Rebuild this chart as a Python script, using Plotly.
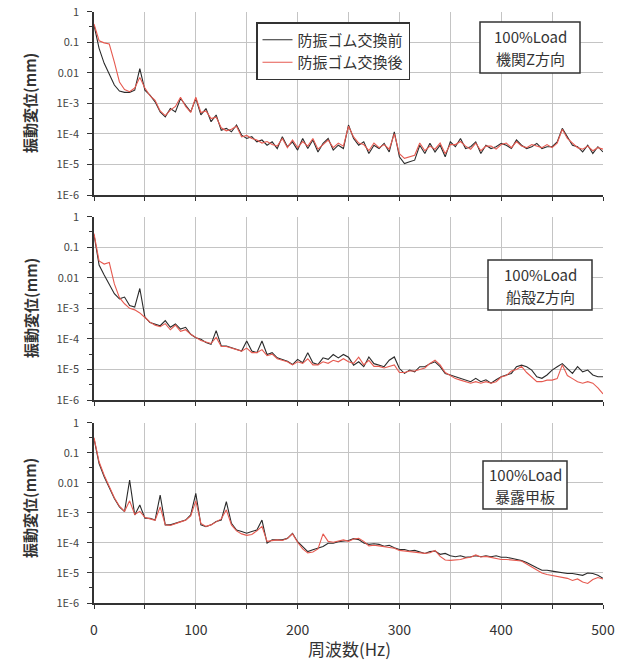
import numpy as np
import plotly.graph_objects as go

# Frequency axis (Hz), 5 Hz resolution
freq = list(range(0, 505, 5))

# log10 of displacement amplitude (mm)
# Engine, Z direction
engine_before = [
    -0.44, -1.20, -1.69, -2.07, -2.40, -2.60, -2.64, -2.64, -2.57, -1.86,
    -2.57, -2.73, -2.95, -3.28, -3.44, -3.17, -3.28, -2.84, -3.06, -3.28,
    -2.84, -3.38, -3.17, -3.60, -3.38, -3.88, -3.82, -3.93, -3.71, -4.04,
    -4.15, -4.09, -4.26, -4.20, -4.37, -4.26, -4.48, -4.09, -4.42, -4.26,
    -4.53, -4.15, -4.48, -4.20, -4.59, -4.31, -4.15, -4.53, -4.37, -4.48,
    -3.71, -4.15, -4.37, -4.26, -4.64, -4.37, -4.48, -4.31, -4.59, -3.93,
    -4.75, -4.97, -4.91, -4.86, -4.37, -4.64, -4.31, -4.59, -4.37, -4.75,
    -4.26, -4.42, -4.15, -4.48, -4.42, -4.26, -4.64, -4.37, -4.48, -4.42,
    -4.31, -4.37, -4.48, -4.20, -4.37, -4.48, -4.42, -4.31, -4.48, -4.42,
    -4.42, -4.26, -3.82, -4.09, -4.37, -4.42, -4.59, -4.37, -4.64, -4.42,
    -4.59,
]
engine_after = [
    -0.40, -0.95, -1.02, -1.06, -1.65, -2.30, -2.55, -2.62, -2.50, -2.15,
    -2.50, -2.75, -2.90, -3.25, -3.40, -3.22, -3.10, -2.80, -3.10, -3.30,
    -2.80, -3.30, -3.25, -3.50, -3.45, -3.80, -3.90, -3.85, -3.75, -4.10,
    -4.05, -4.15, -4.20, -4.30, -4.25, -4.35, -4.40, -4.15, -4.45, -4.20,
    -4.45, -4.25, -4.40, -4.15, -4.50, -4.35, -4.20, -4.45, -4.30, -4.40,
    -3.75, -4.10, -4.30, -4.35, -4.55, -4.30, -4.45, -4.35, -4.50, -4.00,
    -4.65, -4.80, -4.75, -4.70, -4.30, -4.55, -4.40, -4.50, -4.30, -4.65,
    -4.35, -4.35, -4.25, -4.40, -4.50, -4.30, -4.55, -4.40, -4.40, -4.50,
    -4.35, -4.30, -4.45, -4.25, -4.40, -4.45, -4.35, -4.40, -4.45, -4.35,
    -4.45, -4.30, -3.85, -4.15, -4.30, -4.45, -4.50, -4.40, -4.55, -4.45,
    -4.50,
]

# Hull, Z direction
hull_before = [
    -0.59, -1.58, -1.91, -2.24, -2.52, -2.69, -2.63, -2.91, -2.96, -2.35,
    -3.29, -3.46, -3.51, -3.57, -3.40, -3.62, -3.51, -3.68, -3.62, -3.85,
    -3.96, -4.01, -4.12, -4.18, -3.73, -4.23, -4.23, -4.29, -4.34, -4.40,
    -4.07, -4.40, -4.45, -4.07, -4.51, -4.45, -4.62, -4.67, -4.73, -4.84,
    -4.67, -4.78, -4.45, -4.78, -4.84, -4.62, -4.67, -4.51, -4.62, -4.51,
    -4.60, -4.86, -4.75, -4.91, -4.59, -4.81, -4.86, -4.91, -4.70, -4.59,
    -4.97, -5.13, -5.02, -5.08, -4.91, -4.91, -4.81, -4.75, -4.91, -5.13,
    -5.18, -5.24, -5.29, -5.34, -5.40, -5.29, -5.40, -5.34, -5.45, -5.34,
    -5.24, -5.18, -5.13, -4.91, -4.86, -4.91, -5.02, -5.24, -5.29, -5.18,
    -5.02, -4.91, -4.81, -4.97, -5.13, -4.91, -5.08, -5.02, -5.18, -5.24,
    -5.24,
]
hull_after = [
    -0.55, -1.45, -1.55, -1.50, -2.20, -2.65, -2.85, -3.00, -3.05, -3.15,
    -3.30, -3.45, -3.55, -3.60, -3.50, -3.70, -3.55, -3.75, -3.70, -3.85,
    -3.95, -4.05, -4.10, -4.15, -3.95, -4.25, -4.25, -4.30, -4.35, -4.40,
    -4.30, -4.45, -4.45, -4.35, -4.55, -4.50, -4.65, -4.70, -4.75, -4.85,
    -4.75, -4.80, -4.65, -4.85, -4.85, -4.75, -4.80, -4.70, -4.75, -4.65,
    -4.75, -4.80, -4.60, -4.85, -4.70, -4.90, -4.90, -4.95, -4.90, -4.85,
    -5.10, -5.10, -5.05, -5.05, -5.00, -4.95, -4.80, -4.70, -4.85, -5.10,
    -5.20, -5.30, -5.35, -5.40, -5.45, -5.40, -5.45, -5.40, -5.45, -5.40,
    -5.25, -5.20, -5.05, -5.00, -4.90, -5.10, -5.25, -5.40, -5.40, -5.35,
    -5.35, -5.30, -4.85, -5.20, -5.30, -5.40, -5.45, -5.40, -5.45, -5.60,
    -5.80,
]

# Exposed deck
deck_before = [
    -0.53, -1.36, -1.80, -2.19, -2.52, -2.80, -2.96, -1.91, -3.07, -2.74,
    -3.18, -3.18, -3.24, -2.41, -3.40, -3.40, -3.35, -3.29, -3.24, -3.07,
    -2.35, -3.40, -3.46, -3.40, -3.29, -3.24, -2.63, -3.35, -3.57, -3.62,
    -3.68, -3.62, -3.57, -3.24, -4.01, -3.90, -3.90, -3.90, -3.85, -3.68,
    -3.96, -4.12, -4.29, -4.23, -4.18, -4.12, -4.01, -4.01, -3.96, -3.93,
    -3.92, -3.86, -3.89, -4.00, -4.05, -4.03, -4.05, -4.11, -4.08, -4.16,
    -4.22, -4.22, -4.27, -4.25, -4.29, -4.35, -4.29, -4.27, -4.38, -4.35,
    -4.43, -4.46, -4.43, -4.48, -4.46, -4.43, -4.46, -4.43, -4.46, -4.43,
    -4.48, -4.48, -4.51, -4.54, -4.59, -4.65, -4.75, -4.83, -4.91, -4.91,
    -4.94, -4.97, -5.00, -5.02, -5.02, -5.04, -5.08, -5.00, -5.02, -5.08,
    -5.18,
]
deck_after = [
    -0.50, -1.30, -1.75, -2.15, -2.50, -2.78, -2.95, -2.60, -3.05, -2.95,
    -3.15, -3.20, -3.25, -2.80, -3.40, -3.42, -3.35, -3.30, -3.25, -3.10,
    -2.60, -3.35, -3.45, -3.40, -3.30, -3.20, -2.90, -3.40, -3.60, -3.70,
    -3.75, -3.72, -3.60, -3.45, -3.95, -3.92, -3.90, -3.92, -3.85, -3.70,
    -3.98, -4.20, -4.33, -4.30, -4.20, -3.70, -3.95, -3.98, -3.93, -3.90,
    -3.95, -3.87, -3.85, -3.95, -4.10, -4.08, -4.10, -4.12, -4.15, -4.18,
    -4.25, -4.27, -4.30, -4.30, -4.33, -4.35, -4.33, -4.25, -4.45, -4.57,
    -4.58, -4.57, -4.55, -4.50, -4.48, -4.40, -4.47, -4.45, -4.48, -4.50,
    -4.55, -4.55, -4.57, -4.58, -4.60, -4.70, -4.80, -4.92, -5.00, -5.05,
    -5.08, -5.12, -5.15, -5.18, -5.25, -5.20, -5.30, -5.35, -5.22, -5.15,
    -5.20,
]

series_names = ["防振ゴム交換前", "防振ゴム交換後"]
load_label = "100%Load"
location_labels = ["機関Z方向", "船殻Z方向", "暴露甲板"]
y_title = "振動変位(mm)"
x_title = "周波数(Hz)"
y_tick_vals = [1e-6, 1e-5, 1e-4, 1e-3, 0.01, 0.1, 1]
y_tick_text = ["1E-6", "1E-5", "1E-4", "1E-3", "0.01", "0.1", "1"]
x_tick_vals = list(range(0, 550, 50))
x_tick_text = ["0", "", "100", "", "200", "", "300", "", "400", "", "500"]

panels = [
    (engine_before, engine_after),
    (hull_before, hull_after),
    (deck_before, deck_after),
]

W, H = 623, 663
M_L, M_R, M_T, M_B = 94, 20, 11, 60
PW = W - M_L - M_R
PH = H - M_T - M_B


def px_y(y):
    """page pixel row -> paper y fraction"""
    return (H - M_B - y) / PH


def px_x(x):
    return (x - M_L) / PW


domains = [
    [px_y(195), px_y(11.7)],
    [px_y(400), px_y(216.7)],
    [0.0, px_y(422.7)],
]

BLACK = "#2b2b2b"
RED = "#e65a50"
GRID = "#c4c4c4"
AXIS = "#333333"
FONT = "Noto Sans CJK JP"

fig = go.Figure()

for i, (before, after) in enumerate(panels):
    ax = "" if i == 0 else str(i + 1)
    for vals, name, color in ((before, series_names[0], BLACK), (after, series_names[1], RED)):
        fig.add_trace(go.Scatter(
            x=freq,
            y=np.power(10.0, vals),
            mode="lines",
            name=name,
            line=dict(color=color, width=1.1),
            showlegend=(i == 0),
            xaxis="x" + ax,
            yaxis="y" + ax,
        ))

    xaxis = dict(
        domain=[0, 1],
        anchor="y" + ax,
        range=[0, 500],
        automargin=False,
        tickvals=x_tick_vals,
        ticktext=x_tick_text if i == 2 else [""] * len(x_tick_vals),
        ticks="outside",
        ticklen=4,
        tickcolor=AXIS,
        showgrid=True,
        gridcolor=GRID,
        gridwidth=1,
        showline=True,
        linecolor=AXIS,
        linewidth=1.6,
        zeroline=False,
        tickfont=dict(family=FONT, size=14, color="#333333"),
        ticklabelstandoff=9,
    )
    yaxis = dict(
        domain=domains[i],
        anchor="x" + ax,
        type="log",
        range=[-6, 0],
        automargin=False,
        tickvals=y_tick_vals,
        ticktext=y_tick_text,
        ticks="outside",
        ticklen=5,
        tickcolor=AXIS,
        minor=dict(tickvals=[3.16e-6, 3.16e-5, 3.16e-4, 3.16e-3, 3.16e-2, 0.316],
                   ticks="outside", ticklen=3, tickcolor=AXIS, showgrid=False),
        showgrid=True,
        gridcolor=GRID,
        gridwidth=1,
        showline=True,
        linecolor=AXIS,
        linewidth=1.6,
        zeroline=False,
        tickfont=dict(family=FONT, size=11, color="#444444"),
        ticklabelstandoff=6,
    )
    fig.layout["xaxis" + ax] = xaxis
    fig.layout["yaxis" + ax] = yaxis

annotations = []
shapes = []
# y-axis titles
for i, cy in enumerate([103, 308, 508]):
    annotations.append(dict(
        text="<b>" + y_title + "</b>", textangle=-90,
        xref="paper", yref="paper", x=px_x(30), y=px_y(cy),
        xanchor="center", yanchor="middle", showarrow=False,
        font=dict(family=FONT, size=15, color="#333333"),
    ))
# x-axis title
annotations.append(dict(
    text=x_title, xref="paper", yref="paper", x=px_x(349), y=px_y(648),
    xanchor="center", yanchor="middle", showarrow=False,
    font=dict(family=FONT, size=17, color="#333333"),
))

# boxed condition labels: (left, right, top, bottom) in page pixels
label_boxes = [(480, 580, 22, 73), (488, 592, 260, 310), (483, 567, 461, 509)]
for loc, (x0, x1, y0, y1) in zip(location_labels, label_boxes):
    shapes.append(dict(
        type="rect", xref="paper", yref="paper",
        x0=px_x(x0), x1=px_x(x1), y0=px_y(y1), y1=px_y(y0),
        line=dict(color=AXIS, width=1.5), fillcolor="white", layer="above",
    ))
    cx = (x0 + x1) / 2
    cy = (y0 + y1) / 2
    for txt, dy in ((load_label, -11), (loc, 11)):
        annotations.append(dict(
            text=txt, xref="paper", yref="paper", x=px_x(cx), y=px_y(cy + dy),
            xanchor="center", yanchor="middle", showarrow=False,
            font=dict(family=FONT, size=15, color="#333333"),
        ))

fig.update_layout(
    width=W, height=H,
    margin=dict(l=M_L, r=M_R, t=M_T, b=M_B, autoexpand=False),
    paper_bgcolor="white",
    plot_bgcolor="white",
    annotations=annotations,
    shapes=shapes,
    legend=dict(
        x=px_x(256), y=px_y(22), xanchor="left", yanchor="top",
        bgcolor="white", bordercolor=AXIS, borderwidth=1.5,
        font=dict(family=FONT, size=15, color="#333333"),
        tracegroupgap=0, itemwidth=30,
    ),
)

fig.write_html("out.html")
